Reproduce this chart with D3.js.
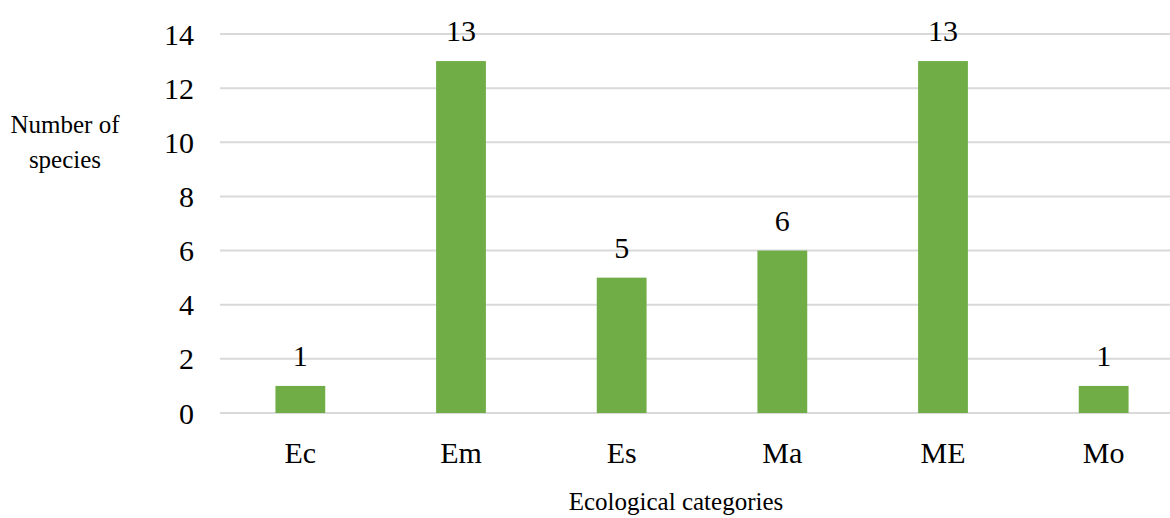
<!DOCTYPE html>
<html lang="en">
<head>
<meta charset="utf-8">
<title>Ecological categories</title>
<script src="https://d3js.org/d3.v7.min.js"></script>
<style>
  body { margin: 0; background: #fff; }
</style>
</head>
<body>
<script>
var categories = ["Ec", "Em", "Es", "Ma", "ME", "Mo"];
var species = [1, 13, 5, 6, 13, 1];
var yTicks = [0, 2, 4, 6, 8, 10, 12, 14];

var width = 1170, height = 518;

var svg = d3.select("body").append("svg")
  .attr("width", width)
  .attr("height", height)
  .style("font-family", "'Liberation Serif'");

var x = d3.scaleBand()
  .domain(categories)
  .range([220, 1184])
  .paddingInner(0.69)
  .paddingOuter(0.345);

var y = d3.scaleLinear()
  .domain([0, 14])
  .range([413, 34]);

// gridlines
svg.append("g").selectAll("line")
  .data(yTicks)
  .enter().append("line")
    .attr("x1", 220)
    .attr("x2", width)
    .attr("y1", function(d) { return y(d); })
    .attr("y2", function(d) { return y(d); })
    .attr("stroke", "#d9d9d9")
    .attr("stroke-width", 2);

// y tick labels
svg.append("g").selectAll("text")
  .data(yTicks)
  .enter().append("text")
    .text(function(d) { return d; })
    .attr("x", 194)
    .attr("y", function(d) { return y(d); })
    .attr("dy", "0.35em")
    .attr("text-anchor", "end")
    .style("font-size", "30px");

// bars
svg.append("g").selectAll("rect")
  .data(species)
  .enter().append("rect")
    .attr("x", function(d, i) { return x(categories[i]); })
    .attr("width", x.bandwidth())
    .attr("y", function(d) { return y(d); })
    .attr("height", function(d) { return y(0) - y(d); })
    .attr("fill", "#70ad47");

// value labels
svg.append("g").selectAll("text")
  .data(species)
  .enter().append("text")
    .text(function(d) { return d; })
    .attr("x", function(d, i) { return x(categories[i]) + x.bandwidth() / 2; })
    .attr("y", function(d) { return y(d) - 20; })
    .attr("text-anchor", "middle")
    .style("font-size", "30px");

// category labels
svg.append("g").selectAll("text")
  .data(categories)
  .enter().append("text")
    .text(function(d) { return d; })
    .attr("x", function(d) { return x(d) + x.bandwidth() / 2; })
    .attr("y", 463)
    .attr("text-anchor", "middle")
    .style("font-size", "30px");

// axis titles
svg.append("g").selectAll("text")
  .data(["Number of", "species"])
  .enter().append("text")
    .text(function(d) { return d; })
    .attr("x", 65)
    .attr("y", function(d, i) { return 133 + i * 35; })
    .attr("text-anchor", "middle")
    .style("font-size", "25px");

svg.append("text")
  .text("Ecological categories")
  .attr("x", 676)
  .attr("y", 510)
  .attr("text-anchor", "middle")
  .style("font-size", "25px");
</script>
</body>
</html>
